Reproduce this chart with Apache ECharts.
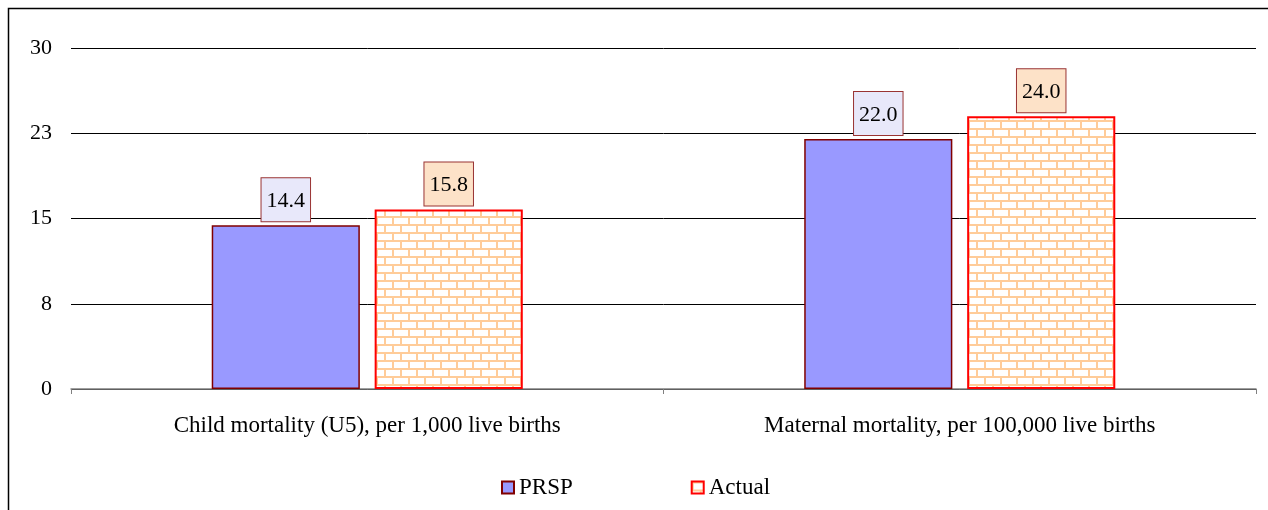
<!DOCTYPE html>
<html>
<head>
<meta charset="utf-8">
<script src="https://cdn.jsdelivr.net/npm/echarts@6/dist/echarts.min.js"></script>
<style>
  html, body { margin: 0; padding: 0; background: #fff; }
  #main { width: 1268px; height: 510px; }
</style>
</head>
<body>
<div id="main"></div>
<script>
const categories = ['Child mortality (U5), per 1,000 live births', 'Maternal mortality, per 100,000 live births'];
const prspValues = [14.4, 22.0];
const actualValues = [15.8, 24.0];
const seriesNames = ['PRSP', 'Actual'];

// brick fill for the "Actual" bars
function brickTile() {
  const c = document.createElement('canvas');
  c.width = 16; c.height = 16;
  const g = c.getContext('2d');
  g.fillStyle = '#fff';
  g.fillRect(0, 0, 16, 16);
  g.fillStyle = '#FFCC99';
  g.fillRect(0, 0, 16, 2);
  g.fillRect(0, 8, 16, 2);
  g.fillRect(0, 0, 2, 8);
  g.fillRect(8, 8, 2, 8);
  return c;
}

const font = '"Liberation Serif", "Times New Roman", serif';
const chart = echarts.init(document.getElementById('main'));

const labelBox = (bg) => ({
  show: true,
  position: 'top',
  distance: 4,
  formatter: (p) => p.value.toFixed(1),
  fontFamily: font,
  fontSize: 22,
  color: '#000',
  backgroundColor: bg,
  borderColor: '#993333',
  borderWidth: 1,
  padding: [12, 5, 9, 5]
});

chart.setOption({
  animation: false,
  textStyle: { fontFamily: font },
  graphic: [{
    type: 'rect',
    shape: { x: 8.5, y: 8.5, width: 1400, height: 700 },
    style: { fill: 'none', stroke: '#000', lineWidth: 1.5 }
  }],
  grid: { left: 71, right: 12, top: 48, bottom: 121 },
  legend: {
    bottom: 6,
    left: 496,
    icon: 'rect',
    itemWidth: 12,
    itemHeight: 12,
    itemGap: 118,
    textStyle: { fontFamily: font, fontSize: 23, color: '#000' },
    data: seriesNames
  },
  xAxis: {
    type: 'category',
    data: categories,
    axisLine: { lineStyle: { color: '#808080', width: 1.5 } },
    axisTick: { show: true, length: 5, lineStyle: { color: '#808080' } },
    axisLabel: { fontFamily: font, fontSize: 23, color: '#000', margin: 25 }
  },
  yAxis: {
    type: 'value',
    min: 0,
    max: 30,
    interval: 7.5,
    axisLine: { show: false },
    axisTick: { show: false },
    splitLine: { lineStyle: { color: '#000', width: 1 } },
    axisLabel: {
      fontFamily: font, fontSize: 22, color: '#000', margin: 19,
      formatter: (v) => String(Math.round(v))
    }
  },
  series: [
    {
      name: seriesNames[0],
      type: 'bar',
      data: prspValues,
      barWidth: '25%',
      barGap: '10%',
      itemStyle: { color: '#9999FF', borderColor: '#800000', borderWidth: 1.5 },
      label: labelBox('#E8E8FA')
    },
    {
      name: seriesNames[1],
      type: 'bar',
      data: actualValues,
      barWidth: '25%',
      itemStyle: {
        color: { image: brickTile(), repeat: 'repeat' },
        borderColor: '#FF0000',
        borderWidth: 2
      },
      label: labelBox('#FDE2C8')
    }
  ]
});
</script>
</body>
</html>
